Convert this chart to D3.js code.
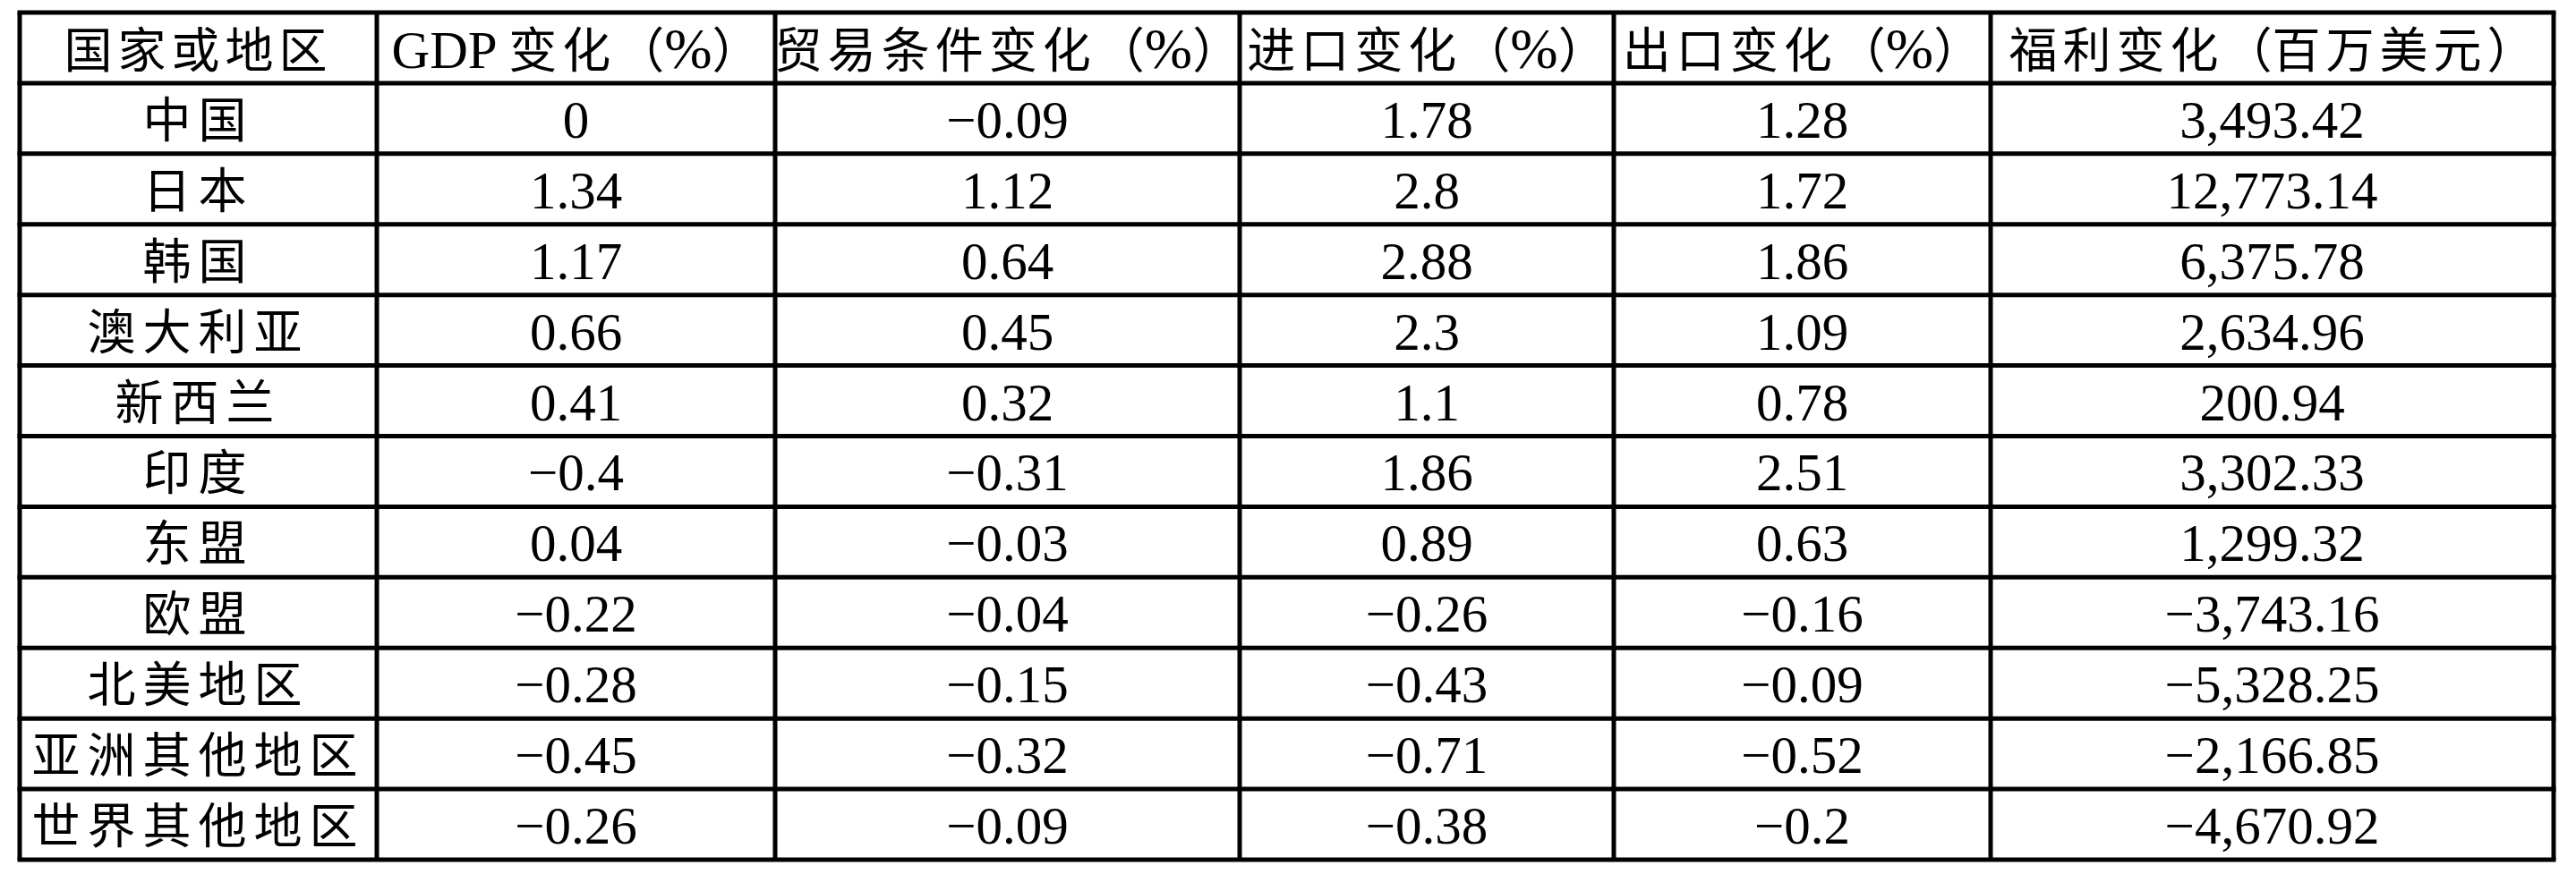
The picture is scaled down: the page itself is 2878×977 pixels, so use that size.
<!DOCTYPE html>
<html>
<head>
<meta charset="utf-8">
<script src="https://cdn.jsdelivr.net/npm/d3@7"></script>
<style>
  html, body { margin: 0; padding: 0; background: #ffffff; }
  svg { display: block; }
</style>
</head>
<body>
<svg id="chart" width="2878" height="977"></svg>
<script>
// ---- data ----
const headers = ["国家或地区", "GDP 变化（%）", "贸易条件变化（%）", "进口变化（%）", "出口变化（%）", "福利变化（百万美元）"];
const regions = ["中国", "日本", "韩国", "澳大利亚", "新西兰", "印度", "东盟", "欧盟", "北美地区", "亚洲其他地区", "世界其他地区"];
const gdpChange = [0, 1.34, 1.17, 0.66, 0.41, -0.4, 0.04, -0.22, -0.28, -0.45, -0.26];
const totChange = [-0.09, 1.12, 0.64, 0.45, 0.32, -0.31, -0.03, -0.04, -0.15, -0.32, -0.09];
const importChange = [1.78, 2.8, 2.88, 2.3, 1.1, 1.86, 0.89, -0.26, -0.43, -0.71, -0.38];
const exportChange = [1.28, 1.72, 1.86, 1.09, 0.78, 2.51, 0.63, -0.16, -0.09, -0.52, -0.2];
const welfareChange = [3493.42, 12773.14, 6375.78, 2634.96, 200.94, 3302.33, 1299.32, -3743.16, -5328.25, -2166.85, -4670.92];

// ---- layout ----
const colEdges = [22, 421, 866, 1385, 1803, 2224, 2853];
const tableTop = 14, tableBottom = 961;
const latinSize = 59;
const cjkSize = 54;
const pctSize = 64;
const latinFont = "'Liberation Serif', 'Times New Roman', serif";
const cjkFont = "'Noto Sans CJK SC', 'Noto Sans CJK JP', sans-serif";

const fmtPct = d3.format("~f");
const fmtWelfare = d3.format(",.2f");

const rows = regions.map((r, i) => [
  r,
  fmtPct(gdpChange[i]),
  fmtPct(totChange[i]),
  fmtPct(importChange[i]),
  fmtPct(exportChange[i]),
  fmtWelfare(welfareChange[i])
]);
const allRows = [headers].concat(rows);

const svg = d3.select("#chart");
const y = d3.scaleBand().domain(d3.range(allRows.length)).range([tableTop, tableBottom]).padding(0);
const colIdx = d3.range(headers.length);
const xLeft = d3.scaleOrdinal().domain(colIdx).range(colEdges.slice(0, -1));
const xRight = d3.scaleOrdinal().domain(colIdx).range(colEdges.slice(1));

svg.append("rect").attr("x", 0).attr("y", 0).attr("width", 2878).attr("height", 977).attr("fill", "#fff");

// split a string into runs of CJK ideographs, full-width punctuation, percent and latin
function runs(s) {
  const out = [];
  for (const ch of s) {
    let k;
    if (/[\u4e00-\u9fff]/.test(ch)) k = "cjk";
    else if (/[\uff08\uff09]/.test(ch)) k = "paren";
    else if (ch === "%") k = "pct";
    else k = "latin";
    if (out.length && out[out.length - 1].k === k) out[out.length - 1].t += ch;
    else out.push({k, t: ch});
  }
  return out;
}

const rowG = svg.selectAll("g.row").data(allRows).join("g").attr("class", "row");
const texts = rowG.selectAll("text")
  .data((d, i) => d.map((v, j) => ({v, i, j})))
  .join("text")
  .attr("x", d => (xLeft(d.j) + xRight(d.j)) / 2)
  .attr("y", d => y(d.i) + y.bandwidth() * 0.5 + (d.i === 0 ? 23 : 21.5))
  .attr("text-anchor", "middle")
  .attr("fill", "#000");

texts.selectAll("tspan")
  .data(d => runs(d.v).map(r => Object.assign({hdr: d.i === 0}, r)))
  .join("tspan")
  .attr("font-family", r => (r.k === "cjk" || r.k === "paren") ? cjkFont : latinFont)
  .attr("font-size", r => (r.k === "cjk" || r.k === "paren") ? cjkSize : r.k === "pct" ? pctSize : latinSize)
  .attr("letter-spacing", r => r.k === "cjk" ? (r.hdr ? 6 : 8) : 0)
  .text(r => r.t);

// horizontal lines
const hLines = d3.range(allRows.length + 1).map(i => i < allRows.length ? y(i) : y(allRows.length - 1) + y.bandwidth());
svg.selectAll("line.h").data(hLines).join("line").attr("class", "h")
  .attr("x1", colEdges[0] - 2.5).attr("x2", colEdges[colEdges.length - 1] + 2.5)
  .attr("y1", d => d).attr("y2", d => d)
  .attr("stroke", "#000").attr("stroke-width", 5);

// vertical lines
svg.selectAll("line.v").data(colEdges).join("line").attr("class", "v")
  .attr("x1", d => d).attr("x2", d => d)
  .attr("y1", tableTop).attr("y2", tableBottom)
  .attr("stroke", "#000").attr("stroke-width", 5);
</script>
</body>
</html>
